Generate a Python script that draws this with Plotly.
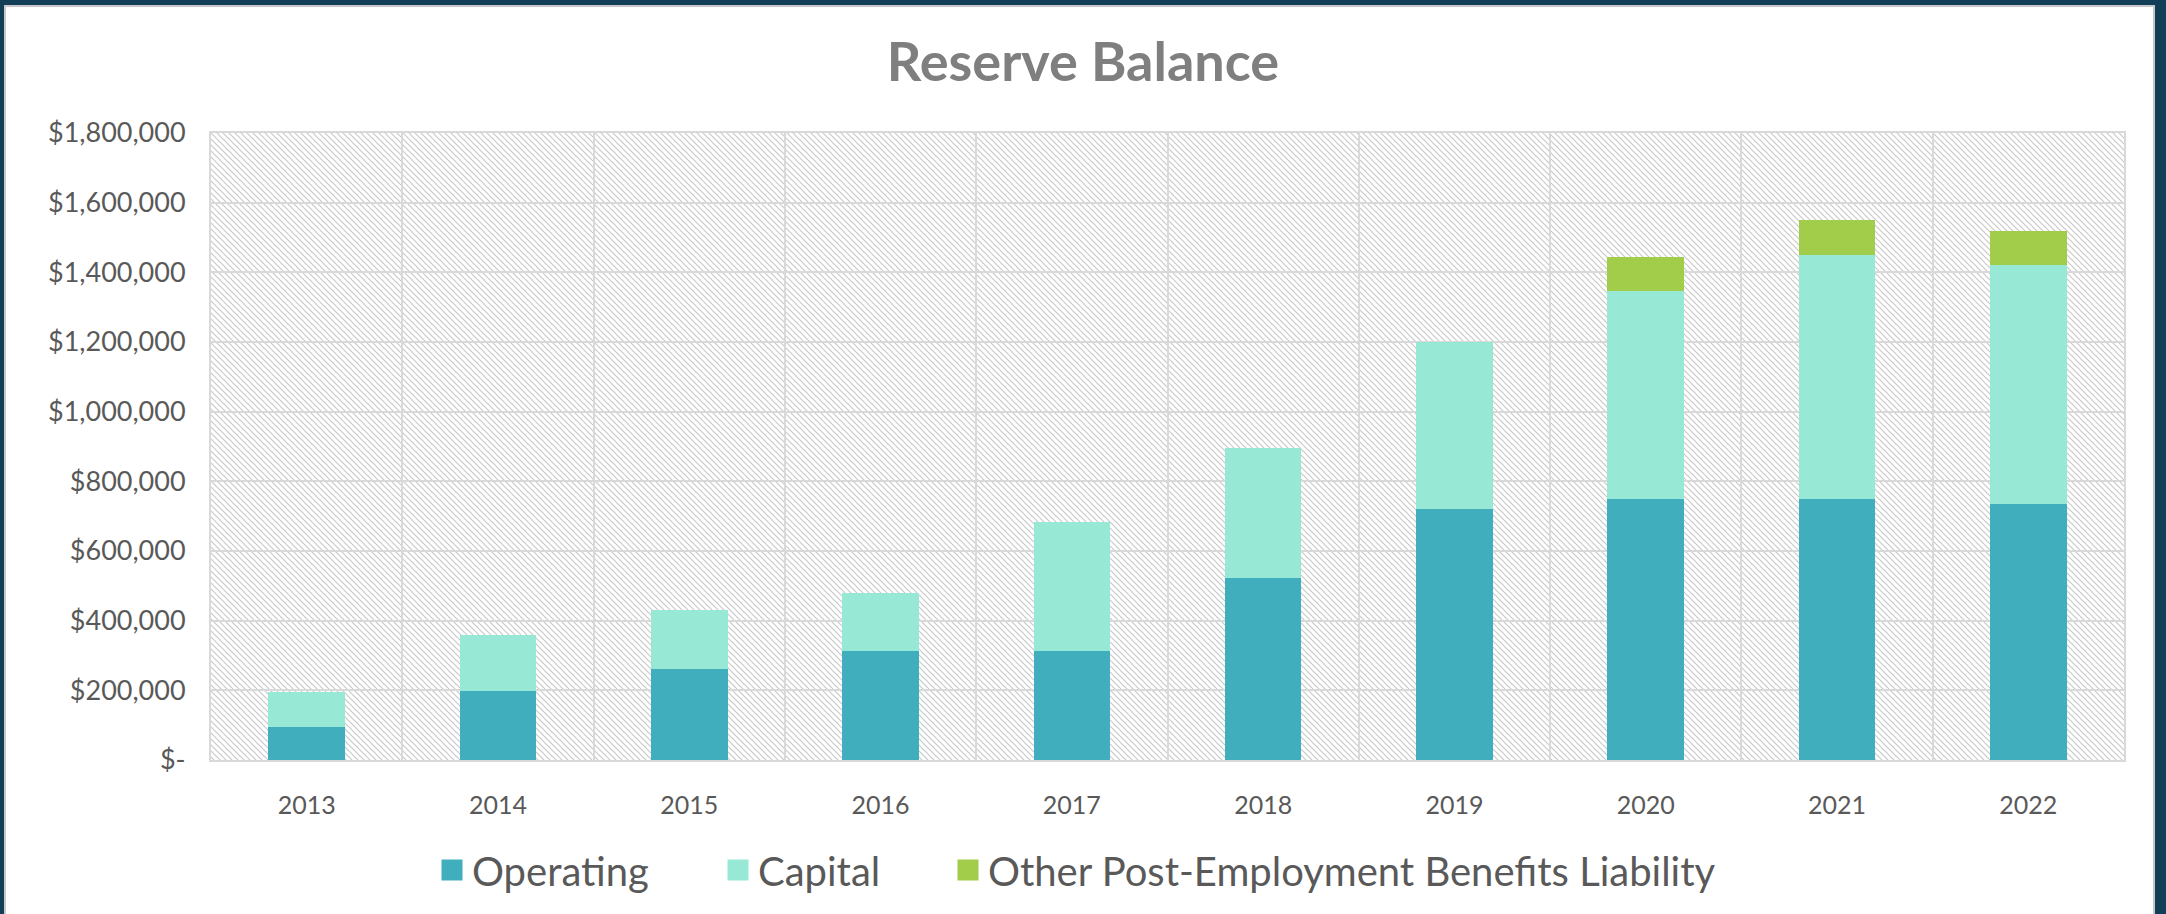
import base64
import plotly.graph_objects as go

years = ["2013", "2014", "2015", "2016", "2017", "2018", "2019", "2020", "2021", "2022"]
operating = [94000, 197000, 262000, 313000, 313000, 523000, 722000, 748000, 749000, 734000]
capital = [100000, 163000, 169000, 167000, 369000, 373000, 479000, 597000, 700000, 686000]
opeb = [0, 0, 0, 0, 0, 0, 0, 100000, 100000, 99000]

series_names = ["Operating", "Capital", "Other Post-Employment Benefits Liability"]
series_colors = ["#41AEBD", "#97E9D5", "#A2CD4A"]

y_tickvals = [0, 200000, 400000, 600000, 800000, 1000000, 1200000, 1400000, 1600000, 1800000]
y_ticktext = ["$-", "$200,000", "$400,000", "$600,000", "$800,000", "$1,000,000",
              "$1,200,000", "$1,400,000", "$1,600,000", "$1,800,000"]

W, H = 2166, 914
ML, MR, MT, MB = 211, 42, 133, 154
PW, PH = W - ML - MR, H - MT - MB

legend_names = ["legend", "legend2", "legend3"]
legend_left_px = [432, 718, 948]

fig = go.Figure()
for name, vals, col, lg in zip(series_names, [operating, capital, opeb], series_colors, legend_names):
    fig.add_trace(go.Bar(x=years, y=vals, name=name, marker=dict(color=col, line=dict(width=0)),
                         width=0.4, legendgroup=name, showlegend=False))
    fig.add_trace(go.Scatter(x=[None], y=[None], mode="markers", name=name, legend=lg,
                             legendgroup=name,
                             marker=dict(symbol="square", size=25, color=col,
                                         line=dict(width=5, color=col))))

# hatch background as svg pattern
s = 6
svg = (f'<svg xmlns="http://www.w3.org/2000/svg" width="{PW}" height="{PH}">'
       f'<defs><pattern id="h" patternUnits="userSpaceOnUse" width="{s}" height="{s}">'
       f'<path d="M0,0 L{s},{s} M-1,{s-1} L1,{s+1} M{s-1},-1 L{s+1},1" stroke="#c9c9c9" stroke-width="1.2"/>'
       f'</pattern></defs><rect width="100%" height="100%" fill="url(#h)"/></svg>')
src = "data:image/svg+xml;base64," + base64.b64encode(svg.encode()).decode()
fig.add_layout_image(dict(source=src, xref="paper", yref="paper", x=0, y=1, sizex=1, sizey=1,
                          sizing="stretch", layer="below", xanchor="left", yanchor="top"))

def px_x(p):
    return (p - ML) / PW

def px_y(p):
    return (H - MB - p) / PH

border = "#123f57"
shapes = [
    dict(type="rect", xref="paper", yref="paper", x0=px_x(0), x1=px_x(4), y0=px_y(H), y1=px_y(0),
         fillcolor=border, line=dict(width=0), layer="above"),
    dict(type="rect", xref="paper", yref="paper", x0=px_x(0), x1=px_x(W), y0=px_y(5), y1=px_y(0),
         fillcolor=border, line=dict(width=0), layer="above"),
    dict(type="rect", xref="paper", yref="paper", x0=px_x(2155), x1=px_x(W), y0=px_y(H), y1=px_y(0),
         fillcolor=border, line=dict(width=0), layer="above"),
    dict(type="line", xref="paper", yref="paper", x0=px_x(5), x1=px_x(5), y0=px_y(H), y1=px_y(5),
         line=dict(color="#c8c8c8", width=2), layer="above"),
    dict(type="line", xref="paper", yref="paper", x0=px_x(4), x1=px_x(2155), y0=px_y(6), y1=px_y(6),
         line=dict(color="#c8c8c8", width=2), layer="above"),
    dict(type="line", xref="paper", yref="paper", x0=px_x(2154), x1=px_x(2154), y0=px_y(H), y1=px_y(5),
         line=dict(color="#c8c8c8", width=2), layer="above"),
]

legend_common = dict(orientation="h", xref="container", yref="container", xanchor="left",
                     y=1 - 870 / H, yanchor="middle", bgcolor="rgba(0,0,0,0)",
                     font=dict(family="Lato", size=40, color="#595959"), itemwidth=30)
legends = {}
for lg, xp in zip(legend_names, legend_left_px):
    legends[lg] = dict(legend_common, x=xp / W)

fig.update_layout(
    width=W, height=H,
    margin=dict(l=ML, r=MR, t=MT, b=MB, autoexpand=False),
    paper_bgcolor="white", plot_bgcolor="rgba(0,0,0,0)",
    barmode="stack",
    title=dict(text="<b>Reserve Balance</b>", x=0.5, xref="container", xanchor="center",
               y=1 - 62 / H, yref="container", yanchor="middle",
               font=dict(family="Lato", size=54, color="#7f7f7f")),
    font=dict(family="Lato", color="#595959"),
    shapes=shapes,
    xaxis=dict(type="category", tickson="boundaries", showgrid=True, gridcolor="#d9d9d9", gridwidth=2,
               showline=True, linecolor="#d9d9d9", linewidth=2, mirror=True, ticks="",
               tickfont=dict(family="Lato", size=25, color="#595959"), ticklabelstandoff=22,
               fixedrange=True),
    yaxis=dict(range=[0, 1800000], tickvals=y_tickvals, ticktext=y_ticktext, showgrid=True,
               gridcolor="#d9d9d9", gridwidth=2, showline=True, linecolor="#d9d9d9", linewidth=2,
               mirror=True, zeroline=False, ticks="",
               tickfont=dict(family="Lato", size=27, color="#595959"), ticklabelstandoff=18),
    **legends,
)

fig.write_html("out.html", config={"displayModeBar": False},
               post_script="document.body.style.margin='0';document.body.style.overflow='hidden';")
